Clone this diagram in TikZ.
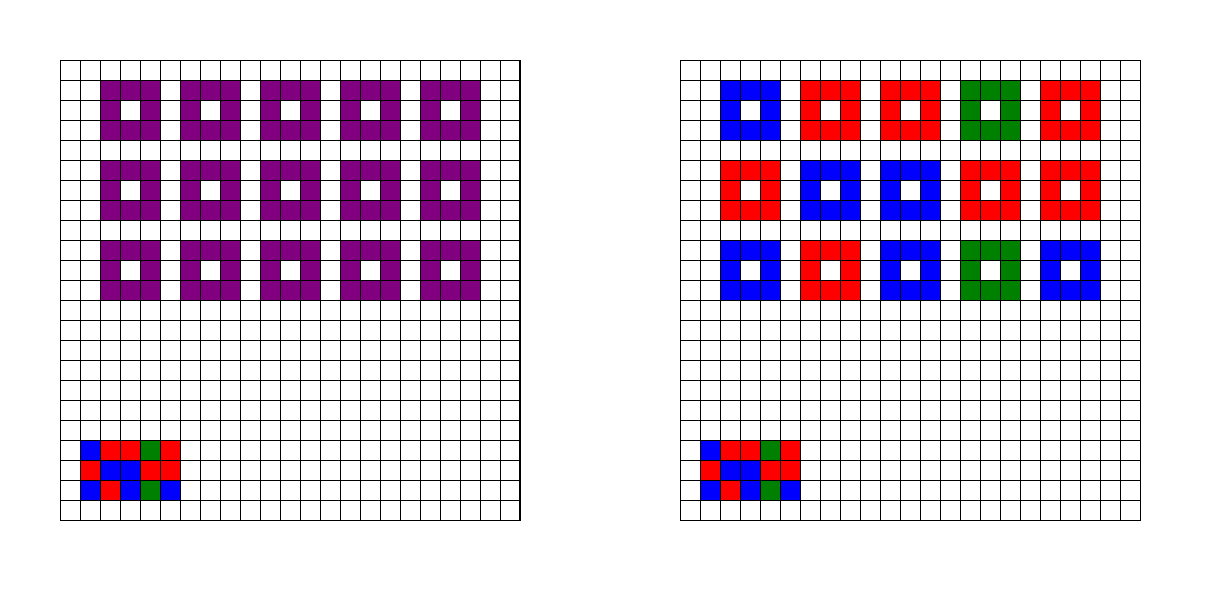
\documentclass[tikz,border=0pt]{standalone}
\usepackage{tikz}
\definecolor{mauve}{HTML}{800080}
\definecolor{leaf}{HTML}{008000}
\tikzset{gridline/.style={draw=black,line width=0.7pt,step=0.5cm}}

\begin{document}
\begin{tikzpicture}[x=0.5cm,y=-0.5cm]
  \useasboundingbox (0,0) rectangle (61,30);
  % left board: purple rings
  \foreach \c in {2,6,10,14,18}
    \foreach \r in {1,5,9} {
      \fill[mauve] (3+\c,3+\r) rectangle ++(3,3);
      \fill[white] (4+\c,4+\r) rectangle ++(1,1);
    }
  % right board: coloured rings
  \foreach \c/\r/\col in {2/1/blue,6/1/red,10/1/red,14/1/leaf,18/1/red,
                          2/5/red,6/5/blue,10/5/blue,14/5/red,18/5/red,
                          2/9/blue,6/9/red,10/9/blue,14/9/leaf,18/9/blue} {
    \fill[\col] (34+\c,3+\r) rectangle ++(3,3);
    \fill[white] (35+\c,4+\r) rectangle ++(1,1);
  }
  % palette, same on both boards
  \foreach \ox in {3,34}
    \foreach \c/\r/\col in {1/19/blue,2/19/red,3/19/red,4/19/leaf,5/19/red,
                            1/20/red,2/20/blue,3/20/blue,4/20/red,5/20/red,
                            1/21/blue,2/21/red,3/21/blue,4/21/leaf,5/21/blue}
      \fill[\col] (\ox+\c,3+\r) rectangle ++(1,1);
  % grids
  \foreach \ox in {3,34} {
    \draw[gridline] (\ox,3) grid (\ox+23,26);
    \draw[gridline] (\ox,3) rectangle (\ox+23,26);
  }
\end{tikzpicture}
\end{document}
